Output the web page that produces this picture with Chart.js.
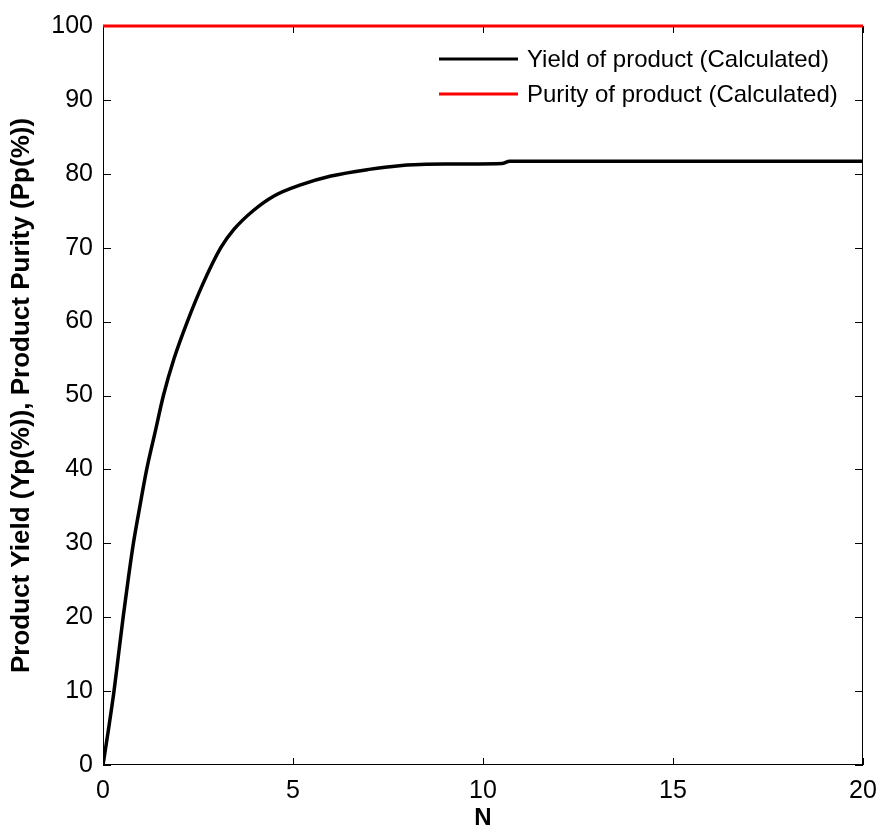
<!DOCTYPE html>
<html>
<head>
<meta charset="utf-8">
<script src="https://cdn.jsdelivr.net/npm/chart.js@4.4.0/dist/chart.umd.min.js"></script>
<style>
  html, body { margin: 0; padding: 0; background: #fff; }
  #wrap { width: 880px; height: 830px; }
</style>
</head>
<body>
<div id="wrap"><canvas id="grafica" width="880" height="830"></canvas></div>
<script>
// datos
const nYield = [0, 0.15, 0.29, 0.41, 0.53, 0.66, 0.80, 0.97, 1.15, 1.37, 1.59, 1.87, 2.22, 2.62, 3.1, 3.45, 3.95, 4.5, 5.2, 6.0, 7.0, 7.8, 8.5, 10.5, 10.7, 20];
const yieldVals = [0, 5, 10, 15, 20, 25, 30, 35, 40, 45, 50, 55, 60, 65, 70, 72.5, 75, 77, 78.5, 79.7, 80.6, 81.1, 81.3, 81.4, 81.7, 81.7];
const nPurity = [0, 20];
const purityVals = [100, 100];
const xTicks = [0, 5, 10, 15, 20];
const yTicks = [0, 10, 20, 30, 40, 50, 60, 70, 80, 90, 100];

const fuente = "'Liberation Sans', Arial, sans-serif";

function puntos(xs, ys) {
  return xs.map((x, i) => ({ x: x, y: ys[i] }));
}

// caja del eje y marcas hacia dentro (estilo matlab)
const cajaEjes = {
  id: 'cajaEjes',
  beforeDatasetsDraw(chart) {
    const ctx = chart.ctx;
    const a = chart.chartArea;
    const sx = chart.scales.x, sy = chart.scales.y;
    ctx.save();
    ctx.strokeStyle = '#000';
    ctx.lineWidth = 1;
    ctx.strokeRect(a.left + 0.5, a.top + 0.5, a.right - a.left - 1, a.bottom - a.top - 1);
    ctx.beginPath();
    xTicks.forEach(v => {
      const px = Math.round(sx.getPixelForValue(v)) + 0.5;
      ctx.moveTo(px, a.bottom); ctx.lineTo(px, a.bottom - 7);
      ctx.moveTo(px, a.top); ctx.lineTo(px, a.top + 7);
    });
    yTicks.forEach(v => {
      const py = Math.round(sy.getPixelForValue(v)) + 0.5;
      ctx.moveTo(a.left, py); ctx.lineTo(a.left + 8, py);
      ctx.moveTo(a.right, py); ctx.lineTo(a.right - 8, py);
    });
    ctx.stroke();
    ctx.restore();
  },
  afterDraw(chart) {
    // leyenda dentro del area
    const ctx = chart.ctx;
    const a = chart.chartArea;
    ctx.save();
    ctx.font = '24px ' + fuente;
    ctx.textBaseline = 'middle';
    ctx.textAlign = 'left';
    chart.data.datasets.forEach((ds, i) => {
      const y = a.top + 33 + i * 35;
      ctx.strokeStyle = ds.borderColor;
      ctx.lineWidth = 3;
      ctx.beginPath();
      ctx.moveTo(a.right - 424, y);
      ctx.lineTo(a.right - 345, y);
      ctx.stroke();
      ctx.fillStyle = '#000';
      ctx.fillText(ds.label, a.right - 336, y + 1);
    });
    ctx.restore();
  }
};

const grafica = document.getElementById('grafica');

let graficaOBJ = new Chart(grafica, {
  type: 'line',
  data: {
    datasets: [{
      label: 'Yield of product (Calculated)',
      data: puntos(nYield, yieldVals),
      borderColor: '#000000',
      borderWidth: 3.5,
      pointRadius: 0,
      fill: false,
      cubicInterpolationMode: 'monotone'
    }, {
      label: 'Purity of product (Calculated)',
      data: puntos(nPurity, purityVals),
      borderColor: '#ff0000',
      borderWidth: 3,
      pointRadius: 0,
      fill: false,
      clip: false
    }]
  },
  options: {
    responsive: false,
    animation: false,
    layout: { padding: { top: 26, right: 17, left: 0, bottom: 0 } },
    plugins: {
      legend: { display: false },
      tooltip: { enabled: false }
    },
    scales: {
      x: {
        type: 'linear',
        min: 0,
        max: 20,
        afterFit(s) { s.height = 65; },
        afterBuildTicks(s) { s.ticks = xTicks.map(v => ({ value: v })); },
        grid: { display: false },
        border: { display: false },
        ticks: { color: '#000', font: { family: fuente, size: 25 }, padding: 3 },
        title: {
          display: true,
          text: 'N',
          color: '#000',
          font: { family: fuente, size: 24, weight: 'bold', lineHeight: 1 },
          padding: { top: 0, bottom: 0 }
        }
      },
      y: {
        min: 0,
        max: 100,
        afterFit(s) { s.width = 103; },
        afterBuildTicks(s) { s.ticks = yTicks.map(v => ({ value: v })); },
        grid: { display: false },
        border: { display: false },
        ticks: { color: '#000', font: { family: fuente, size: 25 }, padding: 2 },
        title: {
          display: true,
          text: 'Product Yield (Yp(%)), Product Purity (Pp(%))',
          color: '#000',
          font: { family: fuente, size: 26, weight: 'bold' },
          padding: { top: 6, bottom: 0 }
        }
      }
    }
  },
  plugins: [cajaEjes]
});
</script>
</body>
</html>
